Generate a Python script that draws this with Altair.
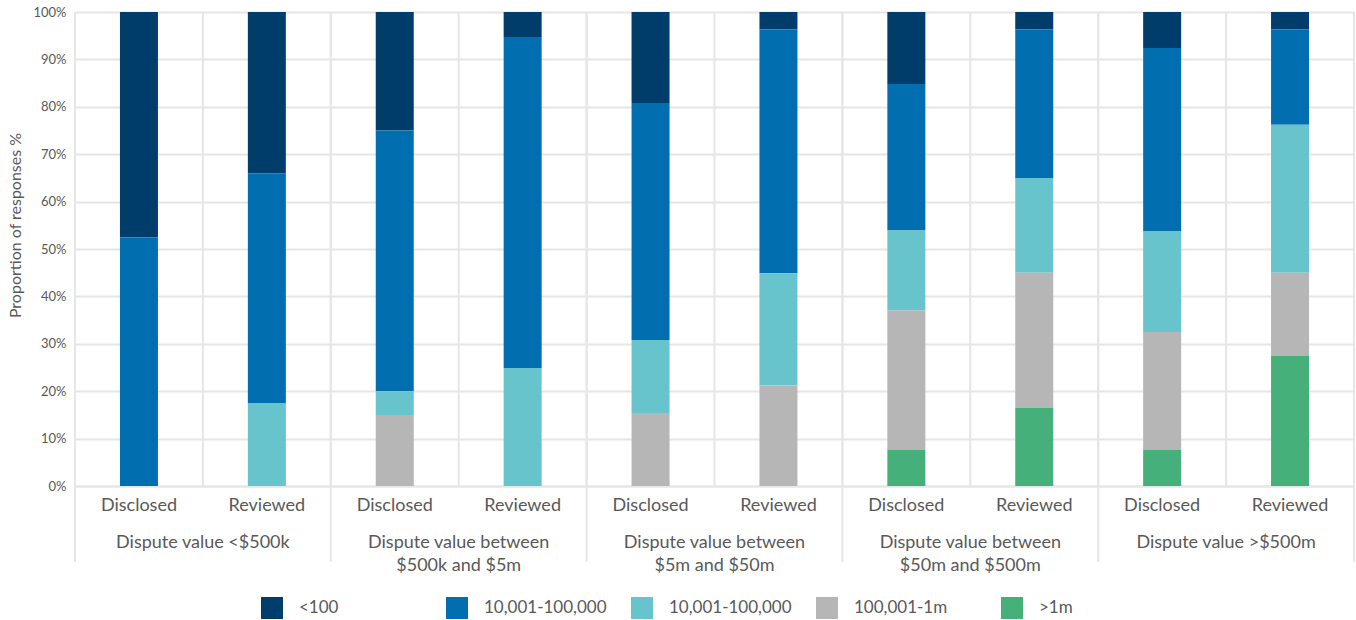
import altair as alt
import pandas as pd

# Categories
group_ids = ["G1", "G2", "G3", "G4", "G5"]
group_labels = [
    "Dispute value <$500k",
    "Dispute value between\n$500k and $5m",
    "Dispute value between\n$5m and $50m",
    "Dispute value between\n$50m and $500m",
    "Dispute value >$500m",
]
statuses = ["Disclosed", "Reviewed"]

# Series (legend order); the third label carries a trailing space so the
# two identically worded bands stay separate categories
series = ["<100", "10,001-100,000", "10,001-100,000 ", "100,001-1m", ">1m"]
colors = ["#003d6a", "#006eaf", "#67c3cc", "#b5b6b5", "#46b07a"]

# Share of responses (%) per bar: G1 Disclosed, G1 Reviewed, G2 Disclosed, ...
pct_lt100 = [47.6, 34.0, 25.0, 5.3, 19.2, 3.7, 15.2, 3.7, 7.6, 3.7]
pct_mid_a = [52.4, 48.5, 55.0, 69.8, 50.0, 51.4, 30.9, 31.3, 38.6, 20.1]
pct_mid_b = [0.0, 17.5, 5.0, 24.9, 15.4, 23.7, 16.9, 20.0, 21.3, 31.2]
pct_100k_1m = [0.0, 0.0, 15.0, 0.0, 15.4, 21.2, 29.4, 28.5, 24.9, 17.6]
pct_gt1m = [0.0, 0.0, 0.0, 0.0, 0.0, 0.0, 7.6, 16.5, 7.6, 27.4]

series_values = [pct_lt100, pct_mid_a, pct_mid_b, pct_100k_1m, pct_gt1m]

slots = [f"{g}|{s}" for g in group_ids for s in statuses]

rows = []
for k, (name, vals) in enumerate(zip(series, series_values)):
    for slot, v in zip(slots, vals):
        rows.append({"slot": slot, "series": name, "pct": v, "stack_rank": len(series) - k})
bars_df = pd.DataFrame(rows)

slot_df = pd.DataFrame({"slot": slots, "status": [s.split("|")[1] for s in slots]})
group_df = pd.DataFrame({"slot": [f"{g}|Reviewed" for g in group_ids], "label": group_labels})

W, H = 1279, 474
FONT = "Lato"
TXT = "#595959"
GRID = "#e6e6e6"

x_scale = alt.Scale(domain=slots, paddingInner=0, paddingOuter=0)

x_axis = alt.Axis(
    title=None,
    labelExpr="split(datum.value, '|')[1]",
    labelAngle=0,
    labelFontSize=18,
    labelColor=TXT,
    labelFont=FONT,
    labelPadding=10,
    bandPosition=0.5,
    ticks=False,
    grid=False,
    domainColor=GRID,
    domainWidth=2,
)

bars = alt.Chart(bars_df).mark_bar(size=38).encode(
    x=alt.X("slot:N", scale=x_scale, axis=x_axis, sort=slots),
    y=alt.Y(
        "pct:Q",
        stack="normalize",
        scale=alt.Scale(domain=[0, 1]),
        axis=alt.Axis(
            title="Proportion of responses %",
            format=".0%",
            values=[i / 10 for i in range(11)],
            labelFontSize=13,
            labelColor=TXT,
            labelFont=FONT,
            labelPadding=9,
            titleFontSize=16,
            titleColor=TXT,
            titleFont=FONT,
            titleFontWeight="normal",
            titlePadding=9,
            titleY=213,
            ticks=False,
            domain=False,
            gridColor=GRID,
            gridWidth=2,
        ),
    ),
    color=alt.Color(
        "series:N",
        scale=alt.Scale(domain=series, range=colors),
        legend=alt.Legend(
            title=None,
            orient="none",
            legendX=186,
            legendY=585,
            direction="horizontal",
            columns=5,
            symbolType="square",
            symbolSize=484,
            symbolStrokeWidth=0,
            symbolOpacity=1,
            labelFontSize=17,
            labelFont=FONT,
            labelColor=TXT,
            labelOffset=16,
            gridAlign="all",
            columnPadding=24,
        ),
    ),
    order=alt.Order("stack_rank:Q", sort="ascending"),
)

# Vertical grid at every band edge inside the plot
inner_rules = alt.Chart(slot_df).mark_rule(color=GRID, strokeWidth=2).encode(
    x=alt.X("slot:N", scale=x_scale, bandPosition=0, sort=slots),
    y=alt.value(0),
    y2=alt.value(H),
)

# Group dividers that run down through the category labels
right_dividers = alt.Chart(slot_df[slot_df["status"] == "Reviewed"]).mark_rule(
    color=GRID, strokeWidth=2
).encode(
    x=alt.X("slot:N", scale=x_scale, bandPosition=1, sort=slots),
    y=alt.value(0),
    y2=alt.value(H + 76),
)
left_divider = alt.Chart(slot_df.iloc[[0]]).mark_rule(color=GRID, strokeWidth=2).encode(
    x=alt.X("slot:N", scale=x_scale, bandPosition=0, sort=slots),
    y=alt.value(0),
    y2=alt.value(H + 76),
)

group_text = alt.Chart(group_df).mark_text(
    font=FONT, fontSize=18, color=TXT, baseline="top", align="center",
    lineBreak="\n", lineHeight=23,
).encode(
    x=alt.X("slot:N", scale=x_scale, bandPosition=0, sort=slots),
    y=alt.value(H + 48),
    text="label:N",
)

chart = alt.layer(bars, inner_rules, right_dividers, left_divider, group_text).properties(
    width=W,
    height=H,
    autosize=alt.AutoSizeParams(type="none"),
    padding={"left": 75, "top": 12, "right": 2, "bottom": 134},
).configure_view(stroke=None).configure(background="white")

chart.save("out.html", embed_options={"renderer": "svg", "actions": False})
